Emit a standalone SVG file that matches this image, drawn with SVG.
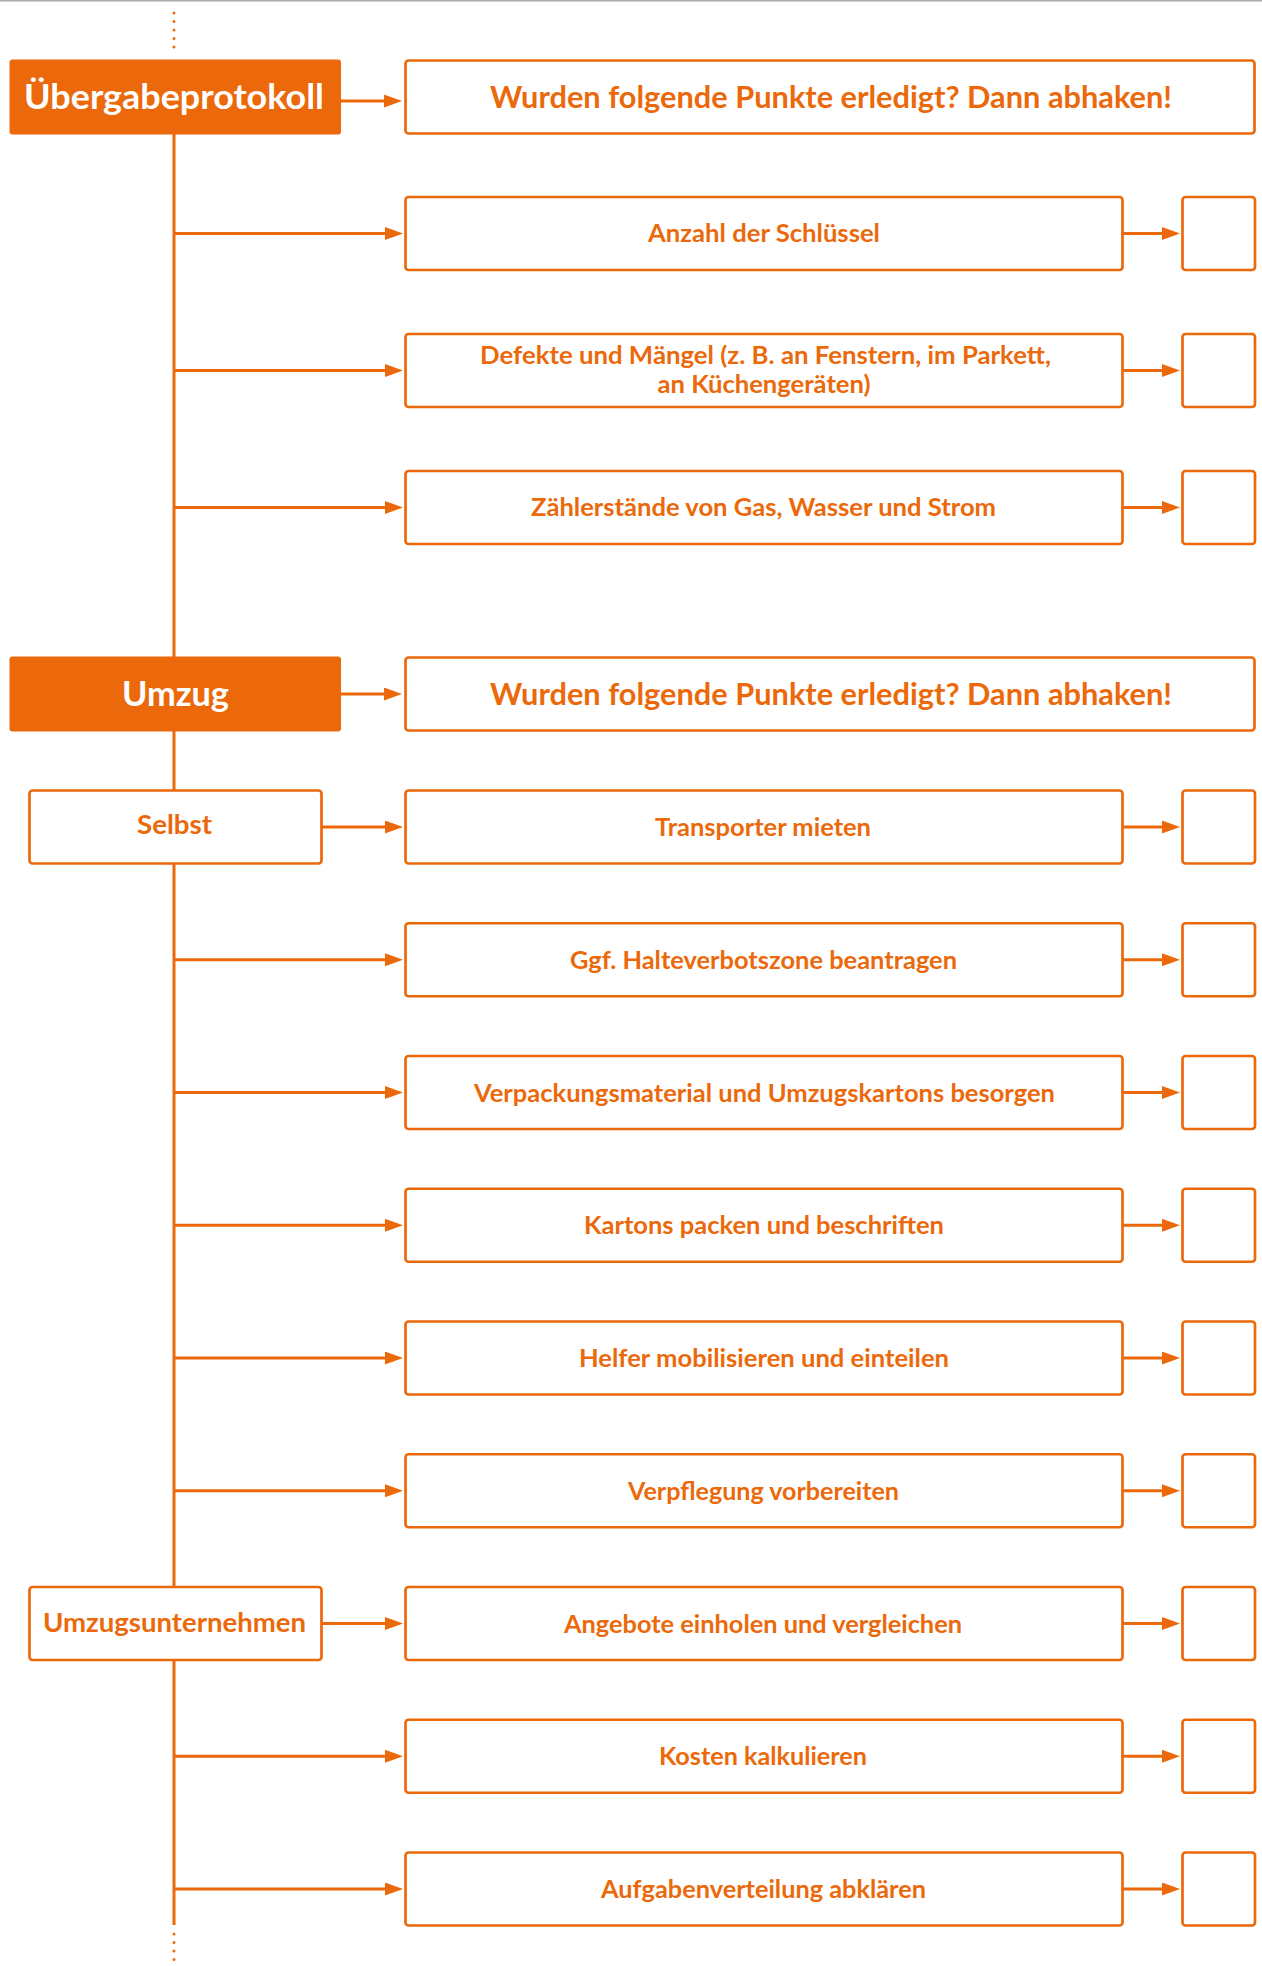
<svg xmlns="http://www.w3.org/2000/svg" width="1262" height="1966" viewBox="0 0 1262 1966">
<defs>
<style>
.ln{stroke:#EB690B;stroke-width:3;fill:none}
.dot{stroke:#EB690B;stroke-width:3;fill:none;stroke-linecap:round;stroke-dasharray:0 8.5}
.box{fill:#fff;stroke:#EB690B;stroke-width:2.7}
.hbox{fill:#EB690B;stroke:none}
.t{font-family:Lato,"Open Sans","Liberation Sans",sans-serif;font-weight:700;fill:#EB690B;text-anchor:middle}
.it{font-size:25px}
.hd{font-size:31px}
.sub{font-size:26px}
.big{font-size:33.5px;fill:#fff}
</style>
<marker id="ah" viewBox="0 0 18 13" refX="8" refY="6.5" markerWidth="18" markerHeight="13" markerUnits="userSpaceOnUse" orient="auto">
<path d="M0,0 L18,6.5 L0,13 z" fill="#EB690B"/>
</marker>
</defs>
<rect width="1262" height="1966" fill="#fff"/>
<line x1="0" y1="0.75" x2="1262" y2="0.75" stroke="#aaaaaa" stroke-width="1.5"/>

<g id="connectors">
<line class="dot" x1="174" y1="13" x2="174" y2="48"/>
<line class="dot" x1="174" y1="1934" x2="174" y2="1961"/>
<line class="ln" x1="174" y1="134" x2="174" y2="1925"/>
<line class="ln" x1="341" y1="101" x2="392" y2="101" marker-end="url(#ah)"/>
<line class="ln" x1="341" y1="694" x2="392" y2="694" marker-end="url(#ah)"/>
<line class="ln" x1="322" y1="827" x2="393" y2="827" marker-end="url(#ah)"/>
<line class="ln" x1="322" y1="1623.5" x2="393" y2="1623.5" marker-end="url(#ah)"/>
<line class="ln" x1="174" y1="233.5" x2="393" y2="233.5" marker-end="url(#ah)"/>
<line class="ln" x1="174" y1="370.5" x2="393" y2="370.5" marker-end="url(#ah)"/>
<line class="ln" x1="174" y1="507.5" x2="393" y2="507.5" marker-end="url(#ah)"/>
<line class="ln" x1="174" y1="959.75" x2="393" y2="959.75" marker-end="url(#ah)"/>
<line class="ln" x1="174" y1="1092.5" x2="393" y2="1092.5" marker-end="url(#ah)"/>
<line class="ln" x1="174" y1="1225.25" x2="393" y2="1225.25" marker-end="url(#ah)"/>
<line class="ln" x1="174" y1="1358" x2="393" y2="1358" marker-end="url(#ah)"/>
<line class="ln" x1="174" y1="1490.75" x2="393" y2="1490.75" marker-end="url(#ah)"/>
<line class="ln" x1="174" y1="1756.25" x2="393" y2="1756.25" marker-end="url(#ah)"/>
<line class="ln" x1="174" y1="1889" x2="393" y2="1889" marker-end="url(#ah)"/>
<line class="ln" x1="1123" y1="233.5" x2="1170" y2="233.5" marker-end="url(#ah)"/>
<line class="ln" x1="1123" y1="370.5" x2="1170" y2="370.5" marker-end="url(#ah)"/>
<line class="ln" x1="1123" y1="507.5" x2="1170" y2="507.5" marker-end="url(#ah)"/>
<line class="ln" x1="1123" y1="827" x2="1170" y2="827" marker-end="url(#ah)"/>
<line class="ln" x1="1123" y1="959.75" x2="1170" y2="959.75" marker-end="url(#ah)"/>
<line class="ln" x1="1123" y1="1092.5" x2="1170" y2="1092.5" marker-end="url(#ah)"/>
<line class="ln" x1="1123" y1="1225.25" x2="1170" y2="1225.25" marker-end="url(#ah)"/>
<line class="ln" x1="1123" y1="1358" x2="1170" y2="1358" marker-end="url(#ah)"/>
<line class="ln" x1="1123" y1="1490.75" x2="1170" y2="1490.75" marker-end="url(#ah)"/>
<line class="ln" x1="1123" y1="1623.5" x2="1170" y2="1623.5" marker-end="url(#ah)"/>
<line class="ln" x1="1123" y1="1756.25" x2="1170" y2="1756.25" marker-end="url(#ah)"/>
<line class="ln" x1="1123" y1="1889" x2="1170" y2="1889" marker-end="url(#ah)"/>
</g>

<g id="uebergabeprotokoll">
<rect class="hbox" x="9.5" y="59.5" width="331.5" height="75" rx="3"/>
<text class="t big" x="174" y="109.3" textLength="300" lengthAdjust="spacingAndGlyphs">Übergabeprotokoll</text>
</g>
<g id="header1">
<rect class="box" x="405.5" y="60.5" width="849" height="73" rx="3"/>
<text class="t hd" x="831" y="108.3" textLength="682" lengthAdjust="spacingAndGlyphs">Wurden folgende Punkte erledigt? Dann abhaken!</text>
</g>

<g id="item-schluessel">
<rect class="box" x="405.5" y="197" width="717" height="73" rx="3"/>
<text class="t it" x="764" y="242.3" textLength="232" lengthAdjust="spacingAndGlyphs">Anzahl der Schlüssel</text>
</g>
<g id="check-schluessel"><rect class="box" x="1182.5" y="197" width="72.5" height="73" rx="3"/></g>

<g id="item-defekte">
<rect class="box" x="405.5" y="334" width="717" height="73" rx="3"/>
<text class="t it" x="765.5" y="364.3" textLength="571" lengthAdjust="spacingAndGlyphs">Defekte und Mängel (z. B. an Fenstern, im Parkett,</text>
<text class="t it" x="764" y="393.3" textLength="213" lengthAdjust="spacingAndGlyphs">an Küchengeräten)</text>
</g>
<g id="check-defekte"><rect class="box" x="1182.5" y="334" width="72.5" height="73" rx="3"/></g>

<g id="item-zaehler">
<rect class="box" x="405.5" y="471" width="717" height="73" rx="3"/>
<text class="t it" x="763.5" y="516.3" textLength="465" lengthAdjust="spacingAndGlyphs">Zählerstände von Gas, Wasser und Strom</text>
</g>
<g id="check-zaehler"><rect class="box" x="1182.5" y="471" width="72.5" height="73" rx="3"/></g>

<g id="umzug">
<rect class="hbox" x="9.5" y="656.5" width="331.5" height="75" rx="3"/>
<text class="t big" x="175.5" y="705.7" textLength="107" lengthAdjust="spacingAndGlyphs">Umzug</text>
</g>
<g id="header2">
<rect class="box" x="405.5" y="657.5" width="849" height="73" rx="3"/>
<text class="t hd" x="831" y="705.3" textLength="682" lengthAdjust="spacingAndGlyphs">Wurden folgende Punkte erledigt? Dann abhaken!</text>
</g>

<g id="selbst">
<rect class="box" x="29.5" y="790.5" width="292" height="73" rx="3"/>
<text class="t sub" x="174.5" y="834.3" textLength="75" lengthAdjust="spacingAndGlyphs">Selbst</text>
</g>

<g id="item-transporter">
<rect class="box" x="405.5" y="790.5" width="717" height="73" rx="3"/>
<text class="t it" x="763" y="836" textLength="216" lengthAdjust="spacingAndGlyphs">Transporter mieten</text>
</g>
<g id="check-transporter"><rect class="box" x="1182.5" y="790.5" width="72.5" height="73" rx="3"/></g>

<g id="item-halteverbot">
<rect class="box" x="405.5" y="923.25" width="717" height="73" rx="3"/>
<text class="t it" x="763.5" y="968.75" textLength="387" lengthAdjust="spacingAndGlyphs">Ggf. Halteverbotszone beantragen</text>
</g>
<g id="check-halteverbot"><rect class="box" x="1182.5" y="923.25" width="72.5" height="73" rx="3"/></g>

<g id="item-verpackung">
<rect class="box" x="405.5" y="1056" width="717" height="73" rx="3"/>
<text class="t it" x="764.5" y="1101.5" textLength="581" lengthAdjust="spacingAndGlyphs">Verpackungsmaterial und Umzugskartons besorgen</text>
</g>
<g id="check-verpackung"><rect class="box" x="1182.5" y="1056" width="72.5" height="73" rx="3"/></g>

<g id="item-kartons">
<rect class="box" x="405.5" y="1188.75" width="717" height="73" rx="3"/>
<text class="t it" x="764" y="1234.25" textLength="360" lengthAdjust="spacingAndGlyphs">Kartons packen und beschriften</text>
</g>
<g id="check-kartons"><rect class="box" x="1182.5" y="1188.75" width="72.5" height="73" rx="3"/></g>

<g id="item-helfer">
<rect class="box" x="405.5" y="1321.5" width="717" height="73" rx="3"/>
<text class="t it" x="764" y="1367" textLength="370" lengthAdjust="spacingAndGlyphs">Helfer mobilisieren und einteilen</text>
</g>
<g id="check-helfer"><rect class="box" x="1182.5" y="1321.5" width="72.5" height="73" rx="3"/></g>

<g id="item-verpflegung">
<rect class="box" x="405.5" y="1454.25" width="717" height="73" rx="3"/>
<text class="t it" x="763.5" y="1499.75" textLength="271" lengthAdjust="spacingAndGlyphs">Verpflegung vorbereiten</text>
</g>
<g id="check-verpflegung"><rect class="box" x="1182.5" y="1454.25" width="72.5" height="73" rx="3"/></g>

<g id="umzugsunternehmen">
<rect class="box" x="29.5" y="1587" width="292" height="73" rx="3"/>
<text class="t sub" x="174.5" y="1631.7" textLength="263" lengthAdjust="spacingAndGlyphs">Umzugsunternehmen</text>
</g>

<g id="item-angebote">
<rect class="box" x="405.5" y="1587" width="717" height="73" rx="3"/>
<text class="t it" x="763" y="1632.5" textLength="398" lengthAdjust="spacingAndGlyphs">Angebote einholen und vergleichen</text>
</g>
<g id="check-angebote"><rect class="box" x="1182.5" y="1587" width="72.5" height="73" rx="3"/></g>

<g id="item-kosten">
<rect class="box" x="405.5" y="1719.75" width="717" height="73" rx="3"/>
<text class="t it" x="763" y="1765.25" textLength="208" lengthAdjust="spacingAndGlyphs">Kosten kalkulieren</text>
</g>
<g id="check-kosten"><rect class="box" x="1182.5" y="1719.75" width="72.5" height="73" rx="3"/></g>

<g id="item-aufgaben">
<rect class="box" x="405.5" y="1852.5" width="717" height="73" rx="3"/>
<text class="t it" x="763.5" y="1898" textLength="325" lengthAdjust="spacingAndGlyphs">Aufgabenverteilung abklären</text>
</g>
<g id="check-aufgaben"><rect class="box" x="1182.5" y="1852.5" width="72.5" height="73" rx="3"/></g>
</svg>
